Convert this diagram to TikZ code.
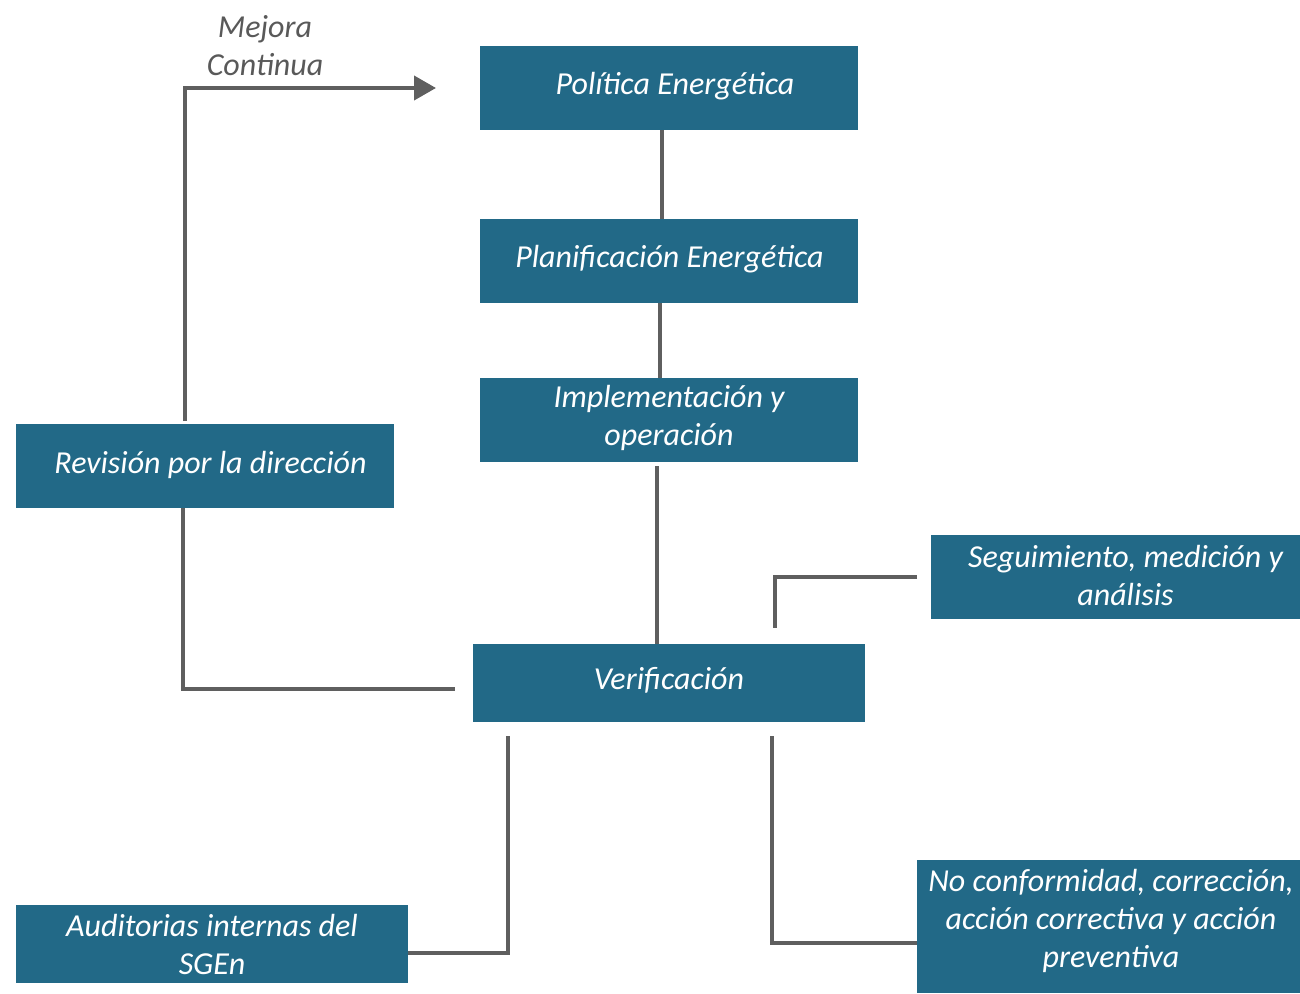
\documentclass[tikz,border=0pt]{standalone}
\usepackage{fontspec}
\setmainfont{Carlito}
\usetikzlibrary{arrows.meta}
\definecolor{boxblue}{HTML}{226987}
\definecolor{linegray}{HTML}{5F5F5F}
\definecolor{labelgray}{HTML}{595959}
\tikzset{
  txt/.style={font=\fontsize{32}{38}\selectfont\itshape, align=center, inner sep=0pt},
  box/.style={fill=boxblue, draw=none, inner sep=0pt},
  boxtext/.style={txt, text=white},
  conn/.style={draw=linegray, line width=4pt},
}
\begin{document}
\begin{tikzpicture}[x=1pt,y=-1pt]
\useasboundingbox (0,0) rectangle (1300,993);
% boxes
\node[box, minimum width=378, minimum height=84] (pol) at (669,88) {};
\node[box, minimum width=378, minimum height=84] (plan) at (669,261) {};
\node[box, minimum width=378, minimum height=84] (impl) at (669,420) {};
\node[box, minimum width=378, minimum height=84] (rev) at (205,466) {};
\node[box, minimum width=369, minimum height=84] (seg) at (1115.5,577) {};
\node[box, minimum width=392, minimum height=78] (ver) at (669,683) {};
\node[box, minimum width=392, minimum height=78] (aud) at (212,944) {};
\node[box, minimum width=383, minimum height=133] (nc) at (1108.5,926.5) {};
% box texts
\node[boxtext] (polt) at (675,86) {Política Energética};
\node[boxtext] (plant) at (669.5,259) {Planificación Energética};
\node[boxtext] (implt) at (669,418) {Implementación y\\operación};
\node[boxtext] (revt) at (210.5,465) {Revisión por la dirección};
\node[boxtext] (segt) at (1125.5,575) {Seguimiento, medición y\\análisis};
\node[boxtext] (vert) at (669,680) {Verificación};
\node[boxtext] (audt) at (212,944) {Auditorias internas del\\SGEn};
\node[boxtext] (nct) at (1111,920.5) {No conformidad, corrección,\\acción correctiva y acción\\preventiva};
% label
\node[txt, text=labelgray] (mej) at (265,46) {Mejora\\Continua};
% coordinates
\coordinate (revtop) at (185,421);
\coordinate (arrtip) at (436,88);
\coordinate (revbotend) at (455,689);
\coordinate (segstart) at (917,577);
\coordinate (segend) at (775,628);
\coordinate (audend) at (508,736);
\coordinate (ncend) at (772,736);
% connectors
\draw[conn] (pol.south -| 662,0) -- (plan.north -| 662,0);
\draw[conn] (plan.south -| 660,0) -- (impl.north -| 660,0);
\draw[conn] (657,466) -- (ver.north -| 657,0);
\draw[conn, -{Triangle[length=22pt,width=24pt]}] (revtop) -- (185,88) -- (arrtip);
\draw[conn] (rev.south -| 183,0) -- (183,689) -- (revbotend);
\draw[conn] (segstart) -- (775,577) -- (segend);
\draw[conn] (aud.east |- 0,953) -- (508,953) -- (audend);
\draw[conn] (nc.west |- 0,943) -- (772,943) -- (ncend);
\end{tikzpicture}
\end{document}
